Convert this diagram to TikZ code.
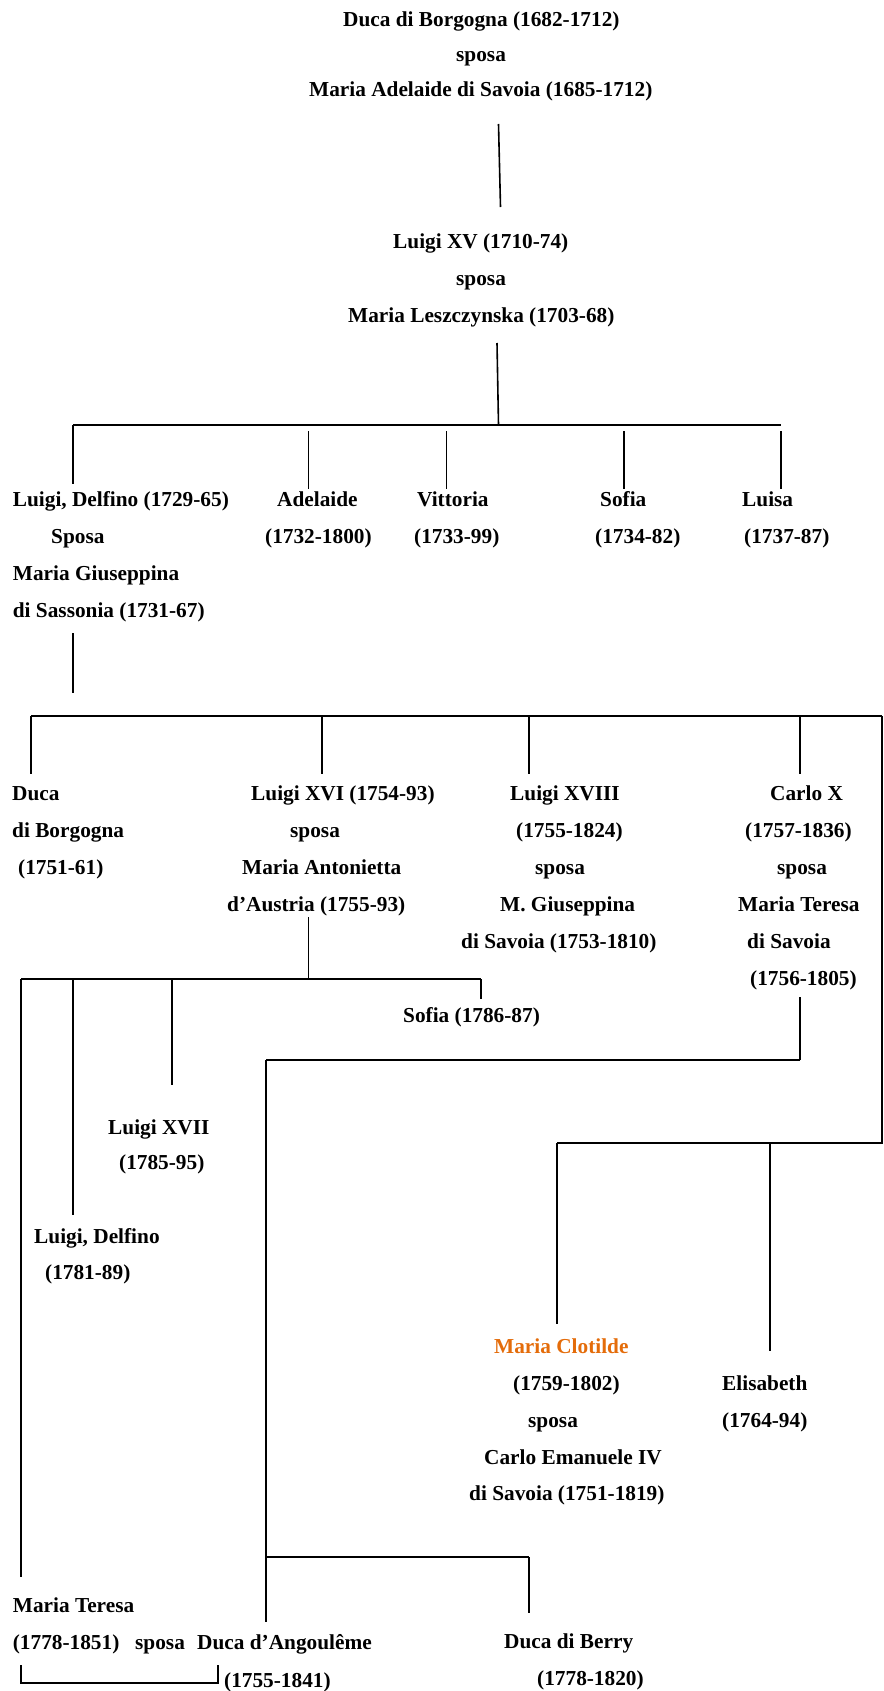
\documentclass[tikz,border=0pt]{standalone}
\usepackage{fontspec}
\setmainfont{Liberation Serif}
\usepackage{tikz}
\definecolor{arancio}{RGB}{228,108,10}
\tikzset{
  nome/.style={anchor=base west,inner sep=0pt,font=\fontsize{21.3}{24}\selectfont\bfseries},
  linea/.style={line width=1.6pt},
  barra/.style={line width=2.2pt},
}

\begin{document}
\begin{tikzpicture}[x=1pt,y=-1pt]
\useasboundingbox (0,0) rectangle (883,1691);

% Duca di Borgogna e Luigi XV
\node[nome] (dbg) at (343,27) {Duca di Borgogna (1682-1712)};
\node[nome] (sp1) at (456,62) {sposa};
\node[nome] (mad) at (309,97) {Maria Adelaide di Savoia (1685-1712)};
\node[nome] (lxv) at (393,248.5) {Luigi XV (1710-74)};
\node[nome] (sp2) at (456,285) {sposa};
\node[nome] (mle) at (348,322) {Maria Leszczynska (1703-68)};

% figli di Luigi XV
\node[nome] (ldf) at (12.7,506.5) {Luigi, Delfino (1729-65)};
\node[nome] (sp3) at (51,543) {Sposa};
\node[nome] (mgs) at (12.7,580) {Maria Giuseppina};
\node[nome] (dsa) at (12.7,617) {di Sassonia (1731-67)};
\node[nome] (ade) at (277,506.5) {Adelaide};
\node[nome] (adea) at (265,543) {(1732-1800)};
\node[nome] (vit) at (417,506.5) {Vittoria};
\node[nome] (vita) at (414,543) {(1733-99)};
\node[nome] (sof) at (600,506.5) {Sofia};
\node[nome] (sofa) at (595,543) {(1734-82)};
\node[nome] (lui) at (742,506.5) {Luisa};
\node[nome] (luia) at (744,543) {(1737-87)};

% figli del Delfino
\node[nome] (dbo) at (12,800.5) {Duca};
\node[nome] (dbob) at (12,837.5) {di Borgogna};
\node[nome] (dboa) at (18,874) {(1751-61)};
\node[nome] (lxvi) at (251,800.5) {Luigi XVI (1754-93)};
\node[nome] (sp4) at (290,837.5) {sposa};
\node[nome] (man) at (242,874) {Maria Antonietta};
\node[nome] (dau) at (227,911) {d’Austria (1755-93)};
\node[nome] (lxviii) at (510,800.5) {Luigi XVIII};
\node[nome] (lxviiia) at (516,837.5) {(1755-1824)};
\node[nome] (sp5) at (535,874) {sposa};
\node[nome] (mgi) at (500,911) {M. Giuseppina};
\node[nome] (dsv) at (461,948) {di Savoia (1753-1810)};
\node[nome] (cx) at (770,800.5) {Carlo X};
\node[nome] (cxa) at (745,837.5) {(1757-1836)};
\node[nome] (sp6) at (777,874) {sposa};
\node[nome] (mte) at (738,911) {Maria Teresa};
\node[nome] (mtes) at (747,948) {di Savoia};
\node[nome] (mtea) at (750,985) {(1756-1805)};

% figli di Luigi XVI
\node[nome] (sofi) at (403,1022) {Sofia (1786-87)};
\node[nome] (lxvii) at (108,1134) {Luigi XVII};
\node[nome] (lxviia) at (119,1169) {(1785-95)};
\node[nome] (ldl) at (34,1243) {Luigi, Delfino};
\node[nome] (ldla) at (45,1279) {(1781-89)};
\node[nome] (mtr) at (12.7,1612) {Maria Teresa};
\node[nome] (mtra) at (12.7,1649) {(1778-1851)};
\node[nome] (sp7) at (135,1649) {sposa};

% sorelle
\node[nome,text=arancio] (mcl) at (494,1353) {Maria Clotilde};
\node[nome] (mcla) at (513,1390) {(1759-1802)};
\node[nome] (sp8) at (528,1427) {sposa};
\node[nome] (cei) at (484,1464) {Carlo Emanuele IV};
\node[nome] (cds) at (469,1500) {di Savoia (1751-1819)};
\node[nome] (eli) at (722,1390) {Elisabeth};
\node[nome] (elia) at (722,1427) {(1764-94)};

% figli di Carlo X
\node[nome] (dan) at (197,1649) {Duca d’Angoulême};
\node[nome] (dana) at (224,1687) {(1755-1841)};
\node[nome] (dbe) at (504,1648) {Duca di Berry};
\node[nome] (dbea) at (537,1685) {(1778-1820)};

% linee
\coordinate (g1a) at (498.5,124); \coordinate (g1b) at (500.5,207);
\coordinate (g2a) at (497,343); \coordinate (g2b) at (498.5,425);
\draw[linea] (g1a) -- (g1b);
\draw[linea] (g2a) -- (g2b);

\coordinate (b1w) at (73,425); \coordinate (b1e) at (781,425);
\draw[barra] (b1w) -- (b1e);
\draw[linea] (b1w) -- (73,484);
\foreach \x in {308.6,446.5,624,781}
  \draw[linea] (\x,431) -- (\x,489);

\coordinate (g3a) at (73,633); \coordinate (g3b) at (73,693);
\draw[linea] (g3a) -- (g3b);

\coordinate (b2w) at (31,716); \coordinate (b2e) at (882,716);
\draw[barra] (b2w) -- (b2e);
\foreach \x in {31,322,529,800}
  \draw[linea] (\x,716) -- (\x,774);

% ramo delle sorelle
\coordinate (b5w) at (557,1143);
\draw[linea] (b2e) |- (b5w);
\draw[barra] (882,1143) -- (b5w);
\draw[linea] (b5w) -- (557,1324);
\draw[linea] (770,1143) -- (770,1351);

% figli di Luigi XVI
\coordinate (g4a) at (308.6,917); \coordinate (g4b) at (308.6,979);
\coordinate (b3w) at (21,979); \coordinate (b3e) at (481,979);
\draw[linea] (g4a) -- (g4b);
\draw[barra] (b3w) -- (b3e);
\draw[linea] (b3e) -- (481,999);
\draw[linea] (b3w) -- (21,1577);
\draw[linea] (73,979) -- (73,1215);
\draw[linea] (172,979) -- (172,1085);

% figli di Carlo X
\coordinate (g5a) at (800,997); \coordinate (b4e) at (800,1060); \coordinate (b4w) at (266,1060);
\draw[linea] (g5a) -- (b4e);
\draw[barra] (b4e) -- (b4w);
\draw[linea] (b4w) -- (266,1622);
\coordinate (b6w) at (266,1557); \coordinate (b6e) at (529,1557);
\draw[barra] (b6w) -- (b6e);
\draw[linea] (b6e) -- (529,1613);

% matrimonio
\draw[linea] (21,1665) -- (21,1683) -- (218,1683) -- (218,1665);
\end{tikzpicture}
\end{document}
